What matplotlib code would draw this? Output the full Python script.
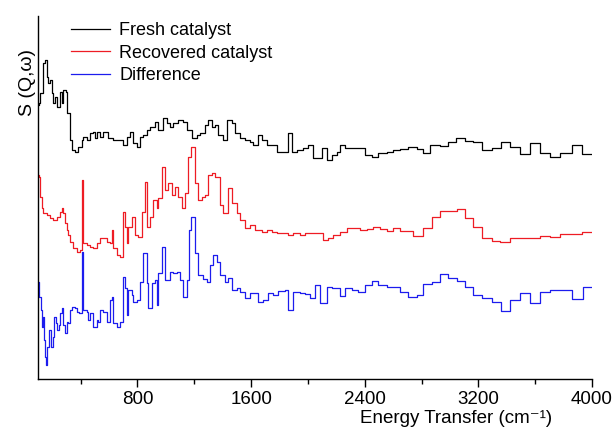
import numpy as np
import matplotlib
matplotlib.use('Agg')
from matplotlib import pyplot as plt

plt.rcParams['font.family'] = ['Liberation Sans', 'DejaVu Sans']

# Energy transfer (cm-1) and intensity (arb. units).
fresh_x = [100, 106, 113, 134, 148, 162, 169, 183, 197, 204, 218, 232, 254, 268, 275, 296,
           303, 324, 338, 359, 380, 408, 415, 444, 465, 486, 500, 514, 535, 556, 584, 592,
           627, 676, 697, 725, 746, 768, 796, 817, 838, 866, 887, 922, 944, 979, 1007, 1028,
           1049, 1084, 1120, 1148, 1183, 1218, 1239, 1275, 1296, 1324, 1345, 1366, 1401, 1430,
           1465, 1486, 1521, 1556, 1592, 1613, 1648, 1676, 1711, 1746, 1782, 1824, 1859, 1887,
           1922, 1965, 2000, 2035, 2070, 2099, 2134, 2169, 2204, 2225, 2260, 2310, 2352, 2401,
           2451, 2493, 2556, 2599, 2648, 2704, 2768, 2810, 2859, 2930, 2986, 3042, 3106, 3162,
           3225, 3296, 3359, 3422, 3493, 3563, 3634, 3704, 3775, 3859, 3929, 4000]
fresh_y = [7.4, 7.6, 8.6, 11.6, 11.9, 10.2, 9.6, 9.9, 8.6, 7.6, 8.2, 7.2, 8.7, 7.6, 8.9, 8.7,
           6.6, 3.9, 2.9, 2.7, 3.2, 3.9, 4.2, 3.9, 4.6, 4.7, 4.1, 4.7, 4.2, 4.7, 4.7, 4.1,
           3.9, 3.9, 3.4, 4.2, 4.7, 3.6, 3.2, 4.2, 4.4, 4.9, 5.2, 5.7, 4.9, 6.1, 5.6, 5.2,
           5.6, 5.9, 5.7, 4.9, 4.1, 4.4, 4.6, 5.4, 5.9, 5.2, 5.4, 4.4, 3.9, 5.9,
           5.6, 4.6, 4.1, 3.9, 3.7, 3.4, 4.4, 3.9, 3.4, 3.4, 2.7, 2.7, 4.6, 2.7,
           2.9, 3.1, 3.4, 2.1, 2.1, 3.1, 1.9, 2.4, 2.7, 3.4, 3.1, 3.1, 3.1, 2.4,
           2.2, 2.6, 2.7, 2.9, 3.0, 3.2, 3.0, 2.6, 3.4, 3.3, 3.7, 4.1, 3.8, 3.7,
           2.9, 3.1, 3.7, 3.2, 2.5, 3.6, 2.6, 2.2, 2.6, 3.4, 2.5, 2.5]

recovered_x = [100, 106, 113, 127, 134, 162, 183, 204, 232, 254, 268, 275, 289, 303, 310, 324,
               345, 373, 394, 408, 415, 444, 465, 486, 514, 535, 556, 584, 606, 620, 627, 655,
               676, 697, 711, 725, 732, 761, 782, 803, 831, 852, 866, 887, 908, 937, 944, 972,
               993, 1014, 1042, 1063, 1084, 1113, 1134, 1155, 1176, 1204, 1225, 1253, 1275, 1296,
               1324, 1345, 1380, 1401, 1437, 1465, 1500, 1521, 1556, 1592, 1627, 1676, 1711, 1746,
               1782, 1824, 1859, 1894, 1944, 1979, 2028, 2070, 2106, 2141, 2176, 2225, 2275, 2317,
               2366, 2415, 2458, 2507, 2556, 2599, 2648, 2739, 2810, 2873, 2930, 2986, 3049, 3106,
               3162, 3225, 3296, 3352, 3422, 3493, 3563, 3634, 3704, 3775, 3859, 3929, 4000]
recovered_y = [8.4, 8.2, 6.2, 5.1, 4.6, 4.4, 4.1, 3.9, 4.2, 4.7, 5.1, 4.6, 3.6, 2.9, 2.4, 1.7,
               1.1, 0.7, 0.9, 7.9, 1.6, 1.4, 1.2, 1.1, 1.6, 2.1, 2.1, 1.7, 1.6, 2.9, 1.1, 0.4,
               0.2, 4.7, 3.2, 1.6, 3.2, 4.2, 2.4, 2.2, 4.7, 7.7, 3.2, 4.2, 5.9, 5.1, 6.1, 9.2,
               6.9, 7.6, 6.4, 7.2, 6.2, 5.1, 6.6, 10.2, 11.2, 7.6, 5.9, 6.2, 6.4, 8.4,
               8.6, 8.2, 5.4, 4.6, 7.1, 5.6, 4.6, 3.9, 3.1, 3.4, 2.9, 2.7, 2.9, 2.7,
               2.6, 2.6, 2.4, 2.6, 2.4, 2.6, 2.6, 2.6, 1.9, 2.1, 2.4, 2.7, 3.1, 3.1,
               2.9, 3.0, 3.2, 3.0, 2.8, 3.1, 2.8, 2.3, 3.1, 4.2, 4.8, 4.8, 5.0, 4.1,
               3.2, 2.1, 1.8, 1.7, 2.1, 2.1, 2.1, 2.3, 2.2, 2.5, 2.5, 2.7, 2.7]

difference_x = [100, 106, 120, 127, 134, 141, 148, 155, 162, 176, 190, 204, 211, 225, 232, 246,
                254, 268, 275, 289, 303, 310, 324, 338, 359, 373, 387, 408, 415, 444, 451, 465,
                486, 514, 521, 535, 556, 584, 606, 620, 627, 655, 676, 697, 711, 725, 732, 761,
                768, 796, 817, 838, 866, 873, 901, 922, 937, 944, 972, 993, 1028, 1049, 1077, 1099,
                1120, 1148, 1162, 1176, 1204, 1225, 1261, 1289, 1310, 1331, 1359, 1380, 1415, 1437,
                1465, 1500, 1521, 1556, 1592, 1627, 1648, 1683, 1718, 1753, 1789, 1838, 1859, 1894,
                1944, 1979, 2014, 2049, 2085, 2106, 2134, 2169, 2204, 2225, 2260, 2310, 2352, 2401,
                2451, 2493, 2556, 2599, 2648, 2704, 2768, 2810, 2873, 2930, 2986, 3049, 3106, 3162,
                3225, 3296, 3359, 3422, 3493, 3563, 3634, 3704, 3789, 3859, 3936, 4000]
difference_y = [3.7, 2.2, 0.9, -0.8, 0.2, -2.1, -3.8, -4.6, -2.8, -1.1, -2.8, -1.8, 0.2, -0.4, -1.1, -0.6,
                0.6, 1.1, -0.6, -1.4, -0.3, -0.4, 0.9, 1.2, 1.1, 0.7, 0.6, 6.7, 0.9, 0.7, -0.1, 0.6,
                -0.8, -0.1, -0.3, 0.9, 0.7, -0.3, 1.9, 2.2, -0.4, -0.8, -0.3, 4.2, 3.1, 0.4, 2.9, 2.4,
                1.7, 1.9, 3.7, 6.6, 3.6, 1.1, 3.6, 3.9, 1.4, 4.6, 7.2, 3.9, 4.7, 4.6, 4.7, 3.9,
                2.2, 3.9, 8.9, 10.2, 6.6, 4.4, 4.0, 3.7, 5.4, 6.4, 5.7, 4.4, 3.7, 4.1,
                2.9, 3.1, 2.7, 2.1, 2.6, 2.6, 1.7, 1.9, 2.6, 2.4, 2.8, 2.9, 0.9, 2.7,
                2.6, 2.5, 2.1, 3.4, 1.6, 1.6, 3.2, 3.1, 3.1, 2.3, 3.1, 2.9, 2.7, 3.4,
                3.8, 3.4, 3.2, 3.2, 2.7, 2.2, 2.4, 3.5, 3.7, 4.5, 4.1, 3.8, 3.2, 2.4,
                2.1, 1.7, 0.8, 1.9, 2.6, 1.6, 2.7, 2.9, 2.9, 2.0, 3.2, 3.2]

series = [
    (fresh_x, fresh_y, 20.0, 'black', 'Fresh catalyst'),
    (recovered_x, recovered_y, 12.0, '#ee1c24', 'Recovered catalyst'),
    (difference_x, difference_y, 6.0, '#1c1cee', 'Difference'),
]

fig = plt.figure(figsize=(6.13, 4.30), dpi=100)
ax = fig.add_axes([38 / 613, 1 - 379 / 430, 554 / 613, 363 / 430])

for x, y, offset, color, label in series:
    ax.step(x, np.asarray(y) + offset, where='post', color=color, lw=0.9, label=label)

ax.set_xlim(100, 4000)
ax.set_ylim(0, 36.3)
ax.set_xticks([800, 1600, 2400, 3200, 4000])
ax.set_xticks([400, 1200, 2000, 2800, 3600], minor=True)
ax.set_yticks([])
ax.tick_params(axis='x', which='major', direction='out', length=6, width=1, labelsize=13.5, pad=3)
ax.tick_params(axis='x', which='minor', direction='out', length=3.5, width=1)
for side in ['top', 'right']:
    ax.spines[side].set_visible(False)
for side in ['left', 'bottom']:
    ax.spines[side].set_linewidth(1)

ax.set_xlabel('Energy Transfer (cm⁻¹)', fontsize=13.5)
ax.xaxis.set_label_coords(0.755, -0.085)
ax.set_ylabel('S (Q,ω)', fontsize=14)
ax.yaxis.set_label_coords(-0.004, 0.818)

ax.legend(loc='upper left', bbox_to_anchor=(0.06, 0.983), frameon=False, fontsize=13,
          handlelength=2.15, handletextpad=0.5, labelspacing=0.3, borderpad=0,
          borderaxespad=0)

fig.savefig('out.png', dpi=100)
